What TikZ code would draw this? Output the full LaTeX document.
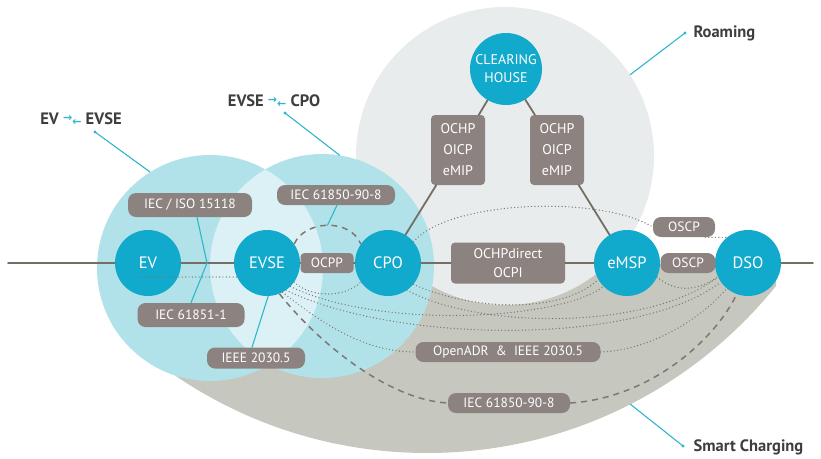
\documentclass[tikz,border=0pt]{standalone}
\usepackage{fontspec}
\setmainfont{PT Sans}
\newfontfamily\arrowfont{DejaVu Sans}
\usetikzlibrary{calc}
\definecolor{nodecyan}{RGB}{17,169,204}
\definecolor{zonecyan}{RGB}{178,226,233}
\definecolor{lenscyan}{RGB}{220,241,245}
\definecolor{roamgray}{RGB}{233,236,237}
\definecolor{smartgray}{RGB}{198,199,191}
\definecolor{boxgray}{RGB}{140,131,128}
\definecolor{linegray}{RGB}{116,111,100}
\definecolor{dotgray}{RGB}{125,120,112}
\definecolor{ptrcyan}{RGB}{48,182,204}
\definecolor{titlegray}{RGB}{62,62,62}
\newcommand{\xchg}{{\color{ptrcyan}\arrowfont\fontsize{11}{11}\selectfont\raisebox{2.5pt}{→}\raisebox{-1.5pt}{←}}}
\begin{document}
\begin{tikzpicture}[x=1pt,y=-1pt, line join=round, line cap=round,
	hub/.style={circle,fill=nodecyan,text=white,minimum size=66pt,inner sep=0pt,font=\fontsize{16.5}{18}\selectfont},
	tag/.style={fill=boxgray,text=white,rounded corners=8pt,inner sep=0pt,minimum height=22pt,font=\fontsize{13.5}{15}\selectfont},
	block/.style={tag,rounded corners=4pt,align=center},
	zone/.style={circle,inner sep=0pt},
	wire/.style={draw=linegray,line width=1.8pt},
	dots/.style={draw=dotgray,line width=1.4pt,dash pattern=on 0pt off 3.4pt},
	dashes/.style={draw=dotgray,line width=1.5pt,line cap=butt,dash pattern=on 6pt off 5pt},
	ptr/.style={draw=ptrcyan,line width=1.1pt},
	title/.style={text=titlegray,font=\bfseries\fontsize{16.5}{18}\selectfont}]
	\useasboundingbox (0,0) rectangle (821,458);
	% background areas
	\begin{scope}
		\clip (112,264) rectangle (776,460);
		\node[zone,fill=smartgray,minimum size=896pt] (smart) at (427,5) {};
	\end{scope}
	\node[zone,fill=roamgray,minimum size=298pt] (roam) at (505,156) {};
	\node[zone,fill=zonecyan,minimum size=226pt] (zoneL) at (210,268) {};
	\node[zone,fill=zonecyan,minimum size=224pt] (zoneR) at (322,266) {};
	\begin{scope}
		\clip (210,268) circle (113);
		\fill[lenscyan] (322,266) circle (112);
	\end{scope}
	% actors
	\node[hub] (EV) at (148,263) {EV};
	\node[hub] (EVSE) at (267,263) {EVSE};
	\node[hub] (CPO) at (388,263) {CPO};
	\node[hub] (eMSP) at (627,263) {eMSP};
	\node[hub] (DSO) at (748,263) {DSO};
	\node[hub,minimum size=72pt,align=center,font=\fontsize{14}{18}\selectfont] (CH) at (506,69) {CLEARING\\HOUSE};
	% protocol labels
	\node[block,minimum width=53pt,minimum height=20pt] (ocpp) at (327,263) {OCPP};
	\node[block,minimum width=114pt,minimum height=41pt,font=\fontsize{14}{19}\selectfont] (ochpd) at (508,263) {OCHPdirect\\OCPI};
	\node[block,minimum width=54pt,minimum height=70pt,font=\fontsize{14}{21}\selectfont] (rL) at (458,150) {OCHP\\OICP\\eMIP};
	\node[block,minimum width=54pt,minimum height=70pt,font=\fontsize{14}{21}\selectfont] (rR) at (557,150) {OCHP\\OICP\\eMIP};
	\node[tag,minimum width=55pt,minimum height=20pt] (oscpLow) at (688,263) {OSCP};
	\node[tag,minimum width=62pt,minimum height=20pt] (oscpUp) at (684,227) {OSCP};
	\node[tag,minimum width=124pt,minimum height=24pt] (iso) at (190,205) {IEC / ISO 15118};
	\node[tag,minimum width=107pt,minimum height=24pt] (i61851) at (191,315) {IEC 61851-1};
	\node[tag,minimum width=98pt,minimum height=21pt] (ieee) at (256,358) {IEEE 2030.5};
	\node[tag,minimum width=118pt,minimum height=20pt] (iecTop) at (336,195) {IEC 61850-90-8};
	\node[tag,minimum width=185pt,minimum height=20pt] (openadr) at (508,352) {OpenADR \ \& \ IEEE 2030.5};
	\node[tag,minimum width=122pt,minimum height=20pt] (iecLow) at (509,403) {IEC 61850-90-8};
	% solid links
	\coordinate (lineW) at (8,263);
	\coordinate (lineE) at (813,263);
	\draw[wire] (lineW) -- (EV);
	\draw[wire] (EV) -- (EVSE);
	\draw[wire] (EVSE) -- (ocpp);
	\draw[wire] (ocpp) -- (CPO);
	\draw[wire] (CPO) -- (ochpd);
	\draw[wire] (ochpd) -- (eMSP);
	\draw[wire] (DSO) -- (lineE);
	\draw[wire] (CH) -- (rL);
	\draw[wire] (rL) -- (CPO);
	\draw[wire] (CH) -- (rR);
	\draw[wire] (rR) -- (eMSP);
	% dashed and dotted links
	\draw[dashes] (EVSE.35) .. controls (305,220) and (350,218) .. coordinate[pos=.5] (arcTop) (CPO.145);
	\draw[dots] (EVSE.-35) .. controls (310,298) and (345,298) .. (CPO.-145);
	\draw[dots] (EVSE.-45) .. controls (380,330) and (560,320) .. (eMSP.-135);
	\draw[dots] (EVSE.-55) .. controls (400,345) and (640,345) .. (DSO.-145);
	\draw[dots] (EVSE.-62) .. controls (330,330) and (370,352) .. (openadr.west);
	\draw[dots] (openadr.east) .. controls (650,350) and (700,320) .. (DSO.-130);
	\draw[dashes] (EVSE.-68) .. controls (320,345) and (390,400) .. (iecLow.west);
	\draw[dashes] (iecLow.east) .. controls (650,398) and (715,340) .. (DSO.-110);
	\draw[dots] (CPO.-40) .. controls (470,310) and (560,315) .. (eMSP.-150);
	\draw[dots] (CPO.-55) .. controls (480,330) and (650,330) .. (DSO.-155);
	\draw[dots] (CPO.40) .. controls (450,200) and (600,195) .. (oscpUp.west);
	\draw[dots] ([xshift=-10pt]oscpUp.south east) -- (DSO.130);
	\draw[dots] (eMSP.-25) .. controls (675,292) and (695,292) .. (DSO.-155);
	\draw[dots] ($(EV.center)+(-10,14)$) -- (EVSE.205);
	% pointers
	\coordinate (pin) at (207,263);
	\draw[ptr] ([xshift=7pt]iso.south) -- (pin) -- (i61851.north);
	\draw[ptr] (EVSE.-88) -- ([xshift=-4pt]ieee.north);
	\draw[ptr] ([xshift=1pt]iecTop.south) -- (arcTop);
	% titles
	\node[title] (tEV) at (81,119) {EV \xchg\ EVSE};
	\node[title] (tEVSE) at (274,101) {EVSE \xchg\ CPO};
	\node[title,anchor=west] (tRoam) at (690,33) {Roaming};
	\node[title,anchor=west] (tSmart) at (690,447) {Smart Charging};
	\coordinate (p1) at (95,132);
	\coordinate (p2) at (285,113);
	\coordinate (p3) at (685,33);
	\coordinate (p4) at (683,446);
	\draw[ptr] (p1) -- (zoneL.122);
	\draw[ptr] (p2) -- (zoneR.81);
	\draw[ptr] (p3) -- (roam.33);
	\draw[ptr] (p4) -- (smart.-63.5);
	\foreach \p in {p1,p2,p3,p4} \fill[ptrcyan] (\p) circle (1.6);
\end{tikzpicture}
\end{document}
